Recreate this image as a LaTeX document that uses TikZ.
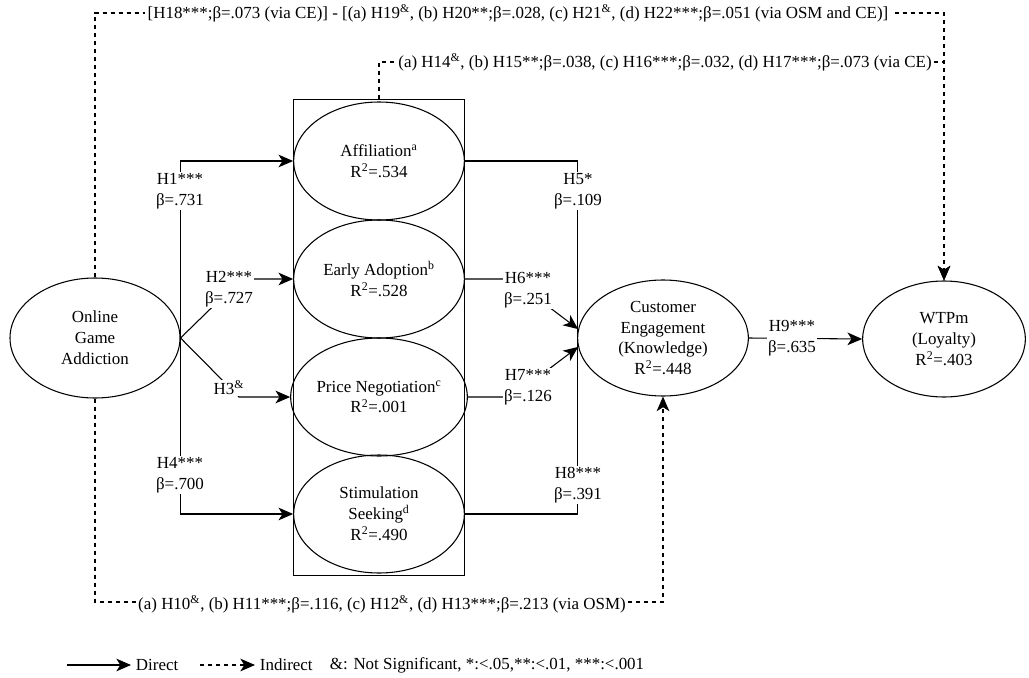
\documentclass[tikz,border=0pt]{standalone}
\usepackage{fontspec}
\setmainfont{Liberation Serif}
\usetikzlibrary{arrows.meta,positioning,shapes.geometric,fit,calc}
\tikzset{
  construct/.style={draw,ellipse,align=center,inner sep=0pt,minimum width=128pt,minimum height=88.5pt},
  hyp/.style={fill=white,align=center,inner sep=1pt},
  path lab/.style={fill=white,inner sep=2pt},
  direct/.style={-{Stealth[length=11pt,width=9.5pt,inset=3pt]}},
  indirect/.style={dashed,-{Stealth[length=11pt,width=9.5pt,inset=3pt]}},
}

\begin{document}
\begin{tikzpicture}[x=0.75pt,y=-0.75pt,line width=0.8pt,font=\fontsize{12.7}{15.6}\selectfont]
  \useasboundingbox (0,0) rectangle (1029,678);
  % constructs
  \node[construct,minimum width=127.5pt,minimum height=90pt] (oga) at (95,338) {Online\\Game\\Addiction};
  \node[construct] (aff) at (379,161) {Affiliation\textsuperscript{a}\\R\textsuperscript{2}=.534};
  \node[construct] (ea) at (379,279) {Early Adoption\textsuperscript{b}\\R\textsuperscript{2}=.528};
  \node[construct] (pn) at (379,397) {Price Negotiation\textsuperscript{c}\\R\textsuperscript{2}=.001};
  \node[construct] (ss) at (379,514) {Stimulation\\Seeking\textsuperscript{d}\\R\textsuperscript{2}=.490};
  \node[construct,minimum height=87pt] (ce) at (663,338) {Customer\\Engagement\\(Knowledge)\\R\textsuperscript{2}=.448};
  \node[construct,minimum width=122pt,minimum height=87pt] (wtp) at (944,339) {WTPm\\(Loyalty)\\R\textsuperscript{2}=.403};
  \node[draw,fit=(aff)(ss),inner xsep=0pt,inner ysep=1.5pt] (box) {};
  % rows of the indirect paths
  \coordinate (top) at (0,13);
  \coordinate (mid) at (0,62);
  \coordinate (bot) at (0,602);
  \coordinate (h2c) at (241,279);
  \coordinate (h3c) at (239,397);
  \coordinate (h6c) at (512,279);
  \coordinate (h7c) at (512,397);
  % direct paths
  \draw[direct] (oga.east) |- (aff.west);
  \draw[direct] (oga.east) -- (h2c) -- (ea.west);
  \draw[direct] (oga.east) -- (h3c) -- (pn.west);
  \draw[direct] (oga.east) |- (ss.west);
  \draw (aff.east) -| (ce.west);
  \draw[direct] (ea.east) -- (h6c) -- (ce.174);
  \draw[direct] (pn.east) -- (h7c) -- (ce.186);
  \draw (ss.east) -| (ce.west);
  \draw[direct] (ce.east) -- (wtp.west);
  % indirect paths
  \draw[indirect] (oga.north) -- (oga.north |- top) -- (wtp.north |- top) -- (wtp.north);
  \draw[indirect] (box.north) -- (box.north |- mid) -- (wtp.north |- mid) -- (wtp.north);
  \draw[indirect] (oga.south) -- (oga.south |- bot) -- (ce.south |- bot) -- (ce.south);
  % hypothesis labels
  \node[hyp] (h1) at (180,191) {H1***\\β=.731};
  \node[hyp] (h2) at (229,289) {H2***\\β=.727};
  \node[hyp] (h3) at (229,388) {H3\textsuperscript{\&}};
  \node[hyp] (h4) at (180,475) {H4***\\β=.700};
  \node[hyp] (h5) at (578,191) {H5*\\β=.109};
  \node[hyp] (h6) at (528,290) {H6***\\β=.251};
  \node[hyp] (h7) at (528,387) {H7***\\β=.126};
  \node[hyp] (h8) at (578,485) {H8***\\β=.391};
  \node[hyp] (h9) at (792,338) {H9***\\β=.635};
  \node[path lab] (toplab) at (518,13) {[H18***;β=.073 (via CE)] - [(a) H19\textsuperscript{\&}, (b) H20**;β=.028, (c) H21\textsuperscript{\&}, (d) H22***;β=.051 (via OSM and CE)]};
  \node[path lab] (midlab) at (665,62) {(a) H14\textsuperscript{\&}, (b) H15**;β=.038, (c) H16***;β=.032, (d) H17***;β=.073 (via CE)};
  \node[path lab] (botlab) at (382,604) {(a) H10\textsuperscript{\&}, (b) H11***;β=.116, (c) H12\textsuperscript{\&}, (d) H13***;β=.213 (via OSM)};
  % legend
  \coordinate (dirS) at (67,665);
  \node[right] (dirtxt) at (131,665) {Direct};
  \draw[direct] (dirS) -- (dirtxt.west);
  \coordinate (indS) at (200,665);
  \node[right] (indtxt) at (255,665) {Indirect};
  \draw[indirect] (indS) -- (indtxt.west);
  \node[right] (sig) at (325,665) {\&: Not Significant, *:<.05,**:<.01, ***:<.001};
\end{tikzpicture}
\end{document}
